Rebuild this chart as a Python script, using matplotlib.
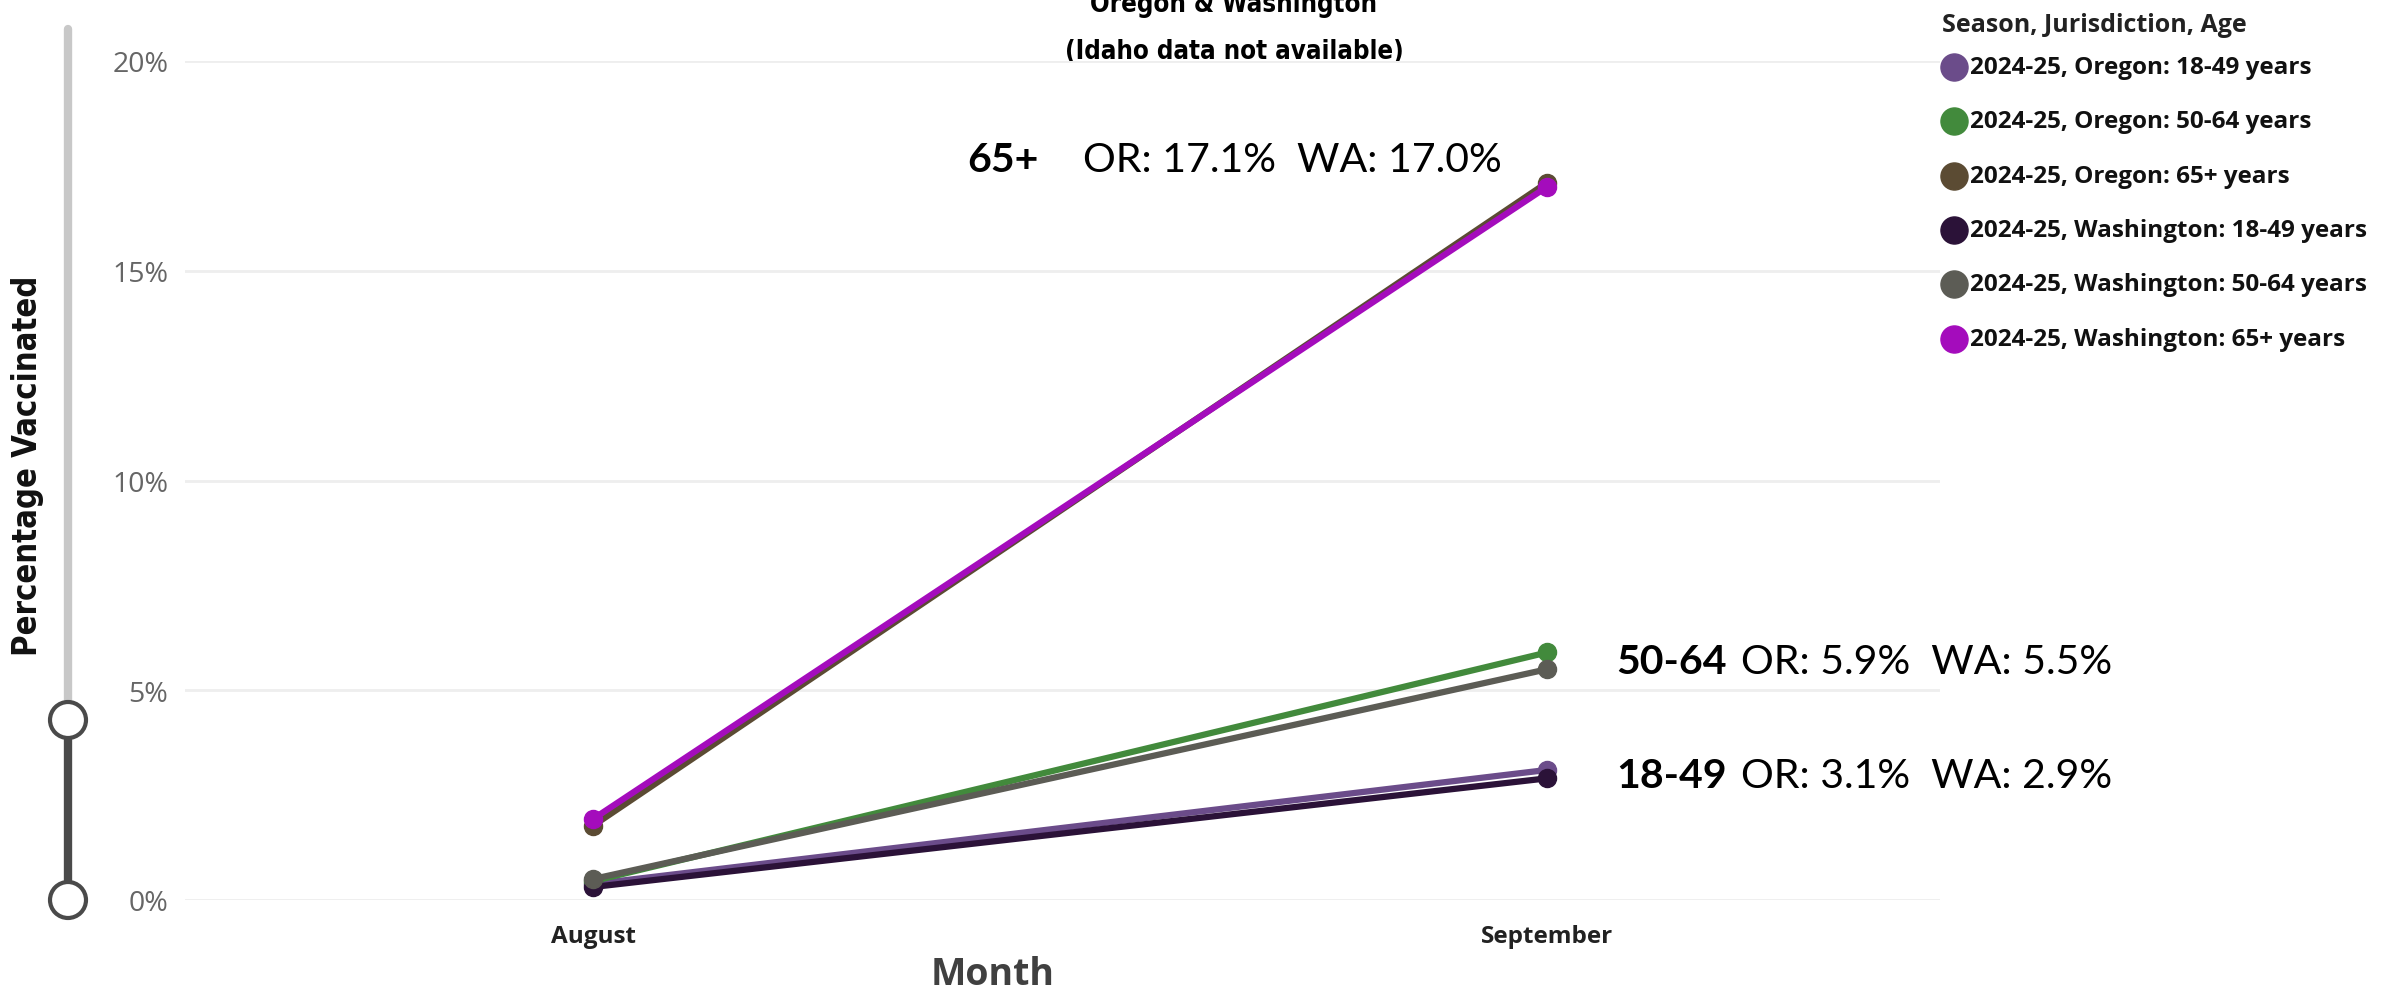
import matplotlib
matplotlib.use("Agg")
import matplotlib.pyplot as plt
from matplotlib.patches import Circle

# data
months = ["August", "September"]
series_labels = [
    "2024-25, Oregon: 18-49 years",
    "2024-25, Oregon: 50-64 years",
    "2024-25, Oregon: 65+ years",
    "2024-25, Washington: 18-49 years",
    "2024-25, Washington: 50-64 years",
    "2024-25, Washington: 65+ years",
]
or_18_49 = [0.38, 3.1]
or_50_64 = [0.45, 5.9]
or_65 = [1.77, 17.1]
wa_18_49 = [0.31, 2.9]
wa_50_64 = [0.50, 5.5]
wa_65 = [1.93, 17.0]
series_values = [or_18_49, or_50_64, or_65, wa_18_49, wa_50_64, wa_65]
colors = ["#6b4c8a", "#428a3c", "#5b4b33", "#2b1238", "#5c5c55", "#a40cbc"]
y_ticks = [0, 5, 10, 15, 20]

ann_groups = ["65+", "50-64", "18-49"]
ann_text = ["OR: 17.1%  WA: 17.0%", "OR: 5.9%  WA: 5.5%", "OR: 3.1%  WA: 2.9%"]

W, H = 2395, 995
fig = plt.figure(figsize=(W / 100, H / 100), dpi=100)

# main plot area
ax = fig.add_axes([185 / W, 1 - 901 / H, (1940 - 185) / W, (901 - 62) / H])
x = list(range(len(months)))
# draw order so magenta / brown end up on top like the original
order = [1, 0, 4, 3, 2, 5]
for i in order:
    ax.plot(x, series_values[i], color=colors[i], lw=4.5, marker="o", ms=13,
            solid_capstyle="round", clip_on=False, zorder=3 + i)

ax.set_xlim(-0.4277, 1.412)
ax.set_ylim(0, 20)
ax.set_yticks(y_ticks)
ax.set_yticklabels([f"{t}%" for t in y_ticks], color="#666666", fontsize=20.5,
                   family=["Open Sans", "DejaVu Sans"])
ax.set_xticks(x)
ax.set_xticklabels(months, fontsize=17.5, fontweight="bold", color="#222222",
                   family=["Open Sans", "DejaVu Sans"])
ax.tick_params(length=0)
ax.tick_params(axis="y", pad=12)
ax.tick_params(axis="x", pad=17)
ax.grid(axis="y", color="#eeeeee", lw=2)
for s in ax.spines.values():
    s.set_visible(False)
ax.set_xlabel("Month", fontsize=27, fontweight="bold", color="#404040",
              family=["Open Sans", "DejaVu Sans"], va="center")
ax.xaxis.set_label_coords((993 - 185) / 1755, -(975 - 901) / 839)

# overlays in pixel coords for slider, legend, titles and notes
ov = fig.add_axes([0, 0, 1, 1], zorder=-1)
ov.set_xlim(0, W)
ov.set_ylim(H, 0)
ov.axis("off")
ov2 = fig.add_axes([0, 0, 1, 1], zorder=5)
ov2.set_xlim(0, W)
ov2.set_ylim(H, 0)
ov2.axis("off")

# range slider on the left
ov.plot([68, 68], [30, 710], color="#c8c8c8", lw=6, solid_capstyle="round")
ov.plot([68, 68], [721, 901], color="#4a4a4a", lw=6)
for cy in [721, 901]:
    ov.add_patch(Circle((68, cy), 18, facecolor="white", edgecolor="#4a4a4a", lw=3, zorder=4))

narrow = dict(family=["DejaVu Sans"], fontstretch="condensed", fontweight="bold")
ov.text(28, 466, "Percentage Vaccinated", rotation=90, ha="center", va="center",
        fontsize=23.5, color="#111111", **narrow)

# title (first line cut off at the top in the original)
ov.text(1234, 12, "Oregon & Washington", ha="center", va="baseline", fontsize=18.5, **narrow)
ov.text(1234, 52, "(Idaho data not available)", ha="center", va="center", fontsize=18.5,
        **narrow)

# legend
ov2.text(1942, 25, "Season, Jurisdiction, Age", ha="left", va="center", fontsize=18,
         fontweight="bold", color="#222222", family=["Open Sans", "DejaVu Sans"])
for i, lab in enumerate(series_labels):
    yy = 68 + 54.3 * i
    ov2.scatter([1954], [yy], s=380, color=colors[i], zorder=6)
    ov2.text(1970, yy, lab, ha="left", va="center", fontsize=17.5, fontweight="bold",
             color="#111111", family=["Open Sans", "DejaVu Sans"])

# value notes
ann_pos = [(967, 1083, 160), (1616, 1741, 663), (1616, 1741, 776)]
for g, t, (xg, xt, yy) in zip(ann_groups, ann_text, ann_pos):
    ov2.text(xg, yy, g, ha="left", va="center", fontsize=29.5, fontweight="bold",
             family=["Lato", "DejaVu Sans"])
    ov2.text(xt, yy, t, ha="left", va="center", fontsize=29.5,
             family=["Lato", "DejaVu Sans"])

fig.savefig("out.png", dpi=100)
